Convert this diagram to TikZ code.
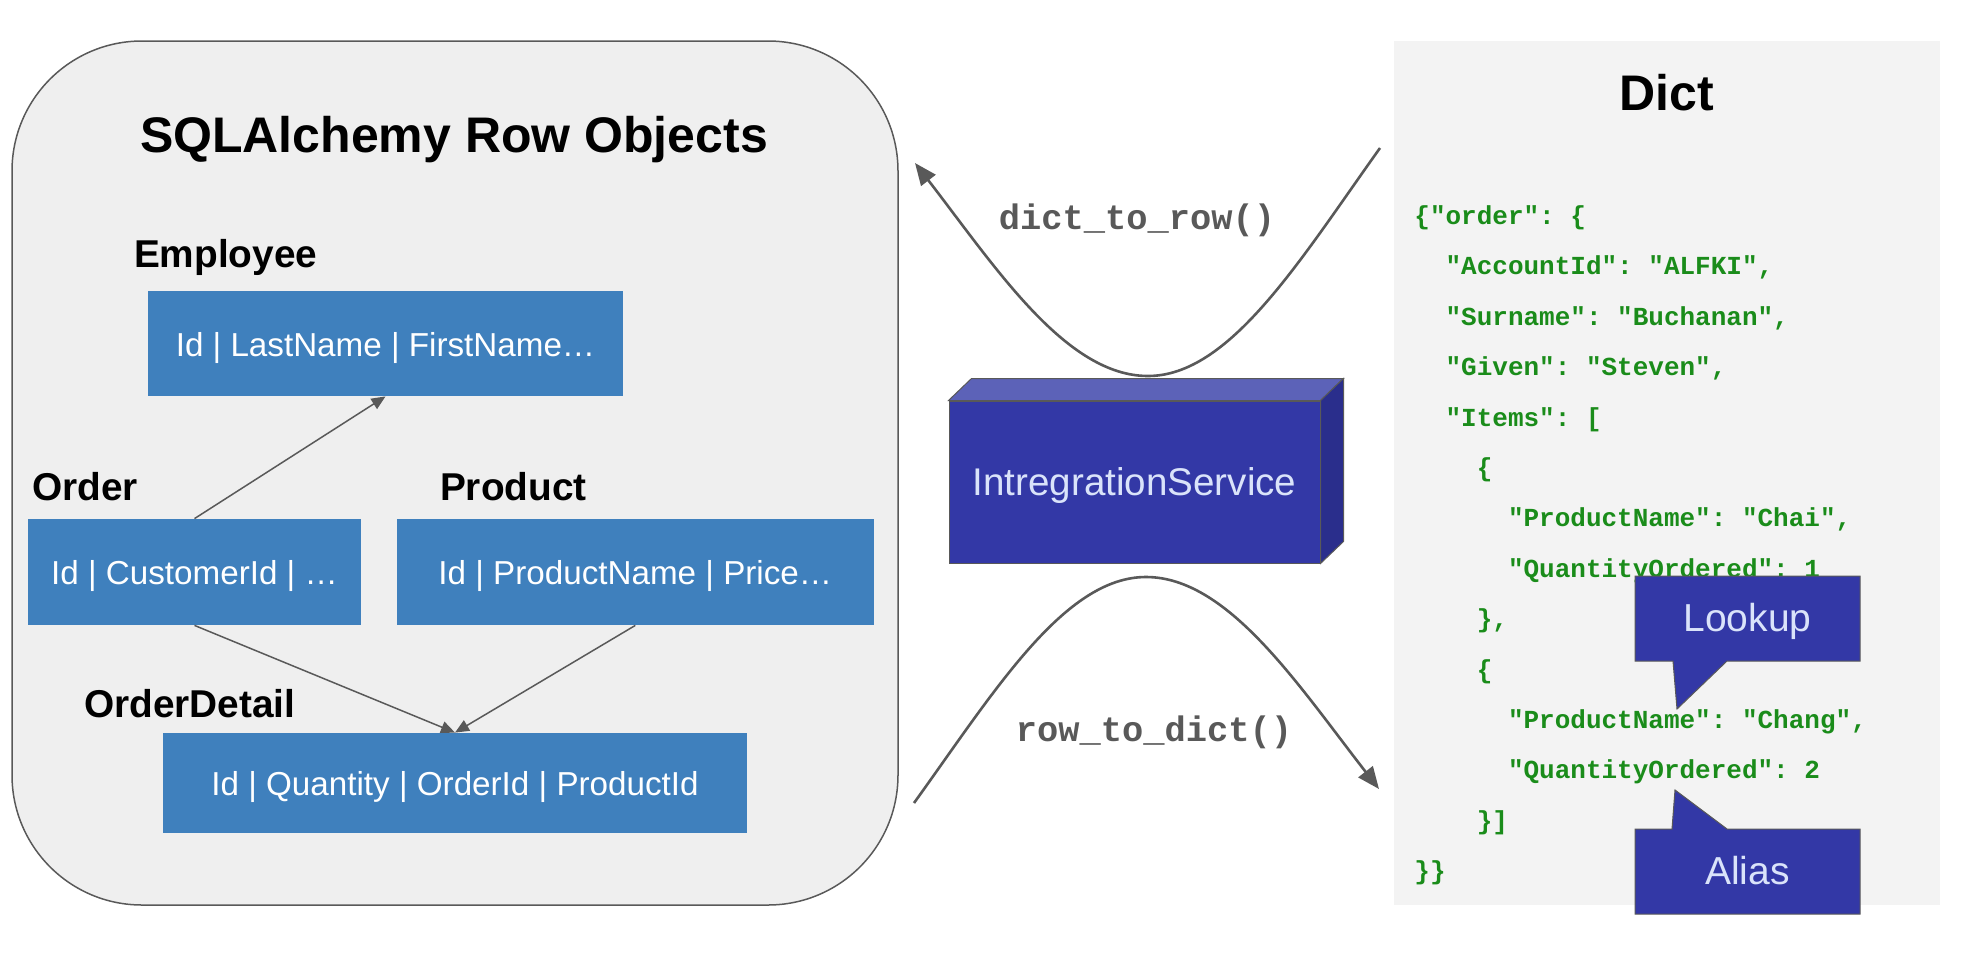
\documentclass[tikz,border=0pt]{standalone}
\usepackage{fontspec}
\setmainfont{Liberation Sans}
\setmonofont{Liberation Mono}
\usetikzlibrary{positioning,calc,arrows.meta}

\definecolor{panelgray}{HTML}{EFEFEF}
\definecolor{dictgray}{HTML}{F3F3F3}
\definecolor{linegray}{HTML}{595959}
\definecolor{rowblue}{HTML}{3F80BD}
\definecolor{svcfront}{HTML}{3338A6}
\definecolor{svctop}{HTML}{5C62B8}
\definecolor{svcside}{HTML}{2A2E8C}
\definecolor{svctext}{HTML}{DAE3FA}
\definecolor{jsongreen}{HTML}{1A8C1A}

\newcommand{\tab}{\phantom{xx}}

\tikzstyle{heading} = [font=\fontsize{25}{29}\selectfont\bfseries, anchor=base]
\tikzstyle{tablename} = [font=\fontsize{19.4}{23}\selectfont\bfseries, anchor=base west]
\tikzstyle{rowbox} = [fill=rowblue, text=white, inner sep=0pt, font=\fontsize{16.6}{20}\selectfont, text height=1.25em, text depth=0pt]
\tikzstyle{link} = [linegray, line width=0.75pt, -{Triangle[length=7pt,width=6pt]}]
\tikzstyle{flow} = [linegray, line width=1.3pt, -{Triangle[length=11pt,width=9pt]}]
\tikzstyle{codelabel} = [font=\fontsize{17.7}{21}\selectfont\ttfamily\bfseries, text=linegray, anchor=base]
\tikzstyle{bubble} = [fill=svcfront, draw=linegray, line width=0.5pt]
\tikzstyle{bubbletext} = [text=svctext, inner sep=0pt, font=\fontsize{19.5}{23}\selectfont, text height=1.3em, text depth=0pt]

\begin{document}
\begin{tikzpicture}[x=0.5pt, y=-0.5pt]
    \useasboundingbox (0,0) rectangle (1966,970);

    % row objects
    \node (row-panel) [draw=linegray, fill=panelgray, line width=0.75pt, rounded corners=65pt, minimum width=443pt, minimum height=432pt] at (455,473) {};
    \node (row-title) [heading] at (454,152) {SQLAlchemy Row Objects};

    \node (employee-label) [tablename] at (127,267) {Employee};
    \node (employee-box) [rowbox, minimum width=237.5pt, minimum height=52.5pt] at (385.5,343.5) {Id | LastName | FirstName…};

    \node (order-label) [tablename] at (25,500) {Order};
    \node (order-box) [rowbox, minimum width=166.5pt, minimum height=53pt] at (194.5,572) {Id | CustomerId | …};

    \node (product-label) [tablename] at (433,500) {Product};
    \node (product-box) [rowbox, minimum width=238.5pt, minimum height=53pt, right=17.5pt of order-box] {Id | ProductName | Price…};

    \node (detail-label) [tablename] at (77,717) {OrderDetail};
    \node (detail-box) [rowbox, minimum width=292pt, minimum height=50pt] at (455,783) {Id | Quantity | OrderId | ProductId};

    \draw [link] (order-box.north) -- (employee-box.south);
    \draw [link] (order-box.south) -- (detail-box.north);
    \draw [link] (product-box.south) -- (detail-box.north);

    % dict
    \node (dict-panel) [fill=dictgray, inner sep=0pt, minimum width=273pt, minimum height=432pt] at (1667,473) {};
    \node (dict-title) [heading] at (1667,110) {Dict};
    \node (dict-json) [anchor=north west, inner sep=0pt, align=left, text=jsongreen, font=\fontsize{13}{25.2}\selectfont\ttfamily\bfseries] at (1414,200) {\rule{0pt}{12pt}\{"order": \{\\
      \tab"AccountId": "ALFKI",\\
      \tab"Surname": "Buchanan",\\
      \tab"Given": "Steven",\\
      \tab"Items": [\\
      \tab\tab\{\\
      \tab\tab\tab"ProductName": "Chai",\\
      \tab\tab\tab"QuantityOrdered": 1\\
      \tab\tab\},\\
      \tab\tab\{\\
      \tab\tab\tab"ProductName": "Chang",\\
      \tab\tab\tab"QuantityOrdered": 2\\
      \tab\tab\}]\\
      \}\}};

    % service in the middle
    \coordinate (up-start) at (1380,148);
    \coordinate (up-low) at (1148,376);
    \coordinate (up-end) at (915,163);
    \draw [flow] (up-start) .. controls (1300,260) and (1230,376) .. (up-low) .. controls (1066,376) and (996,268) .. (up-end);
    \node (to-row) [codelabel] at (1137,229) {dict\_to\_row()};

    \coordinate (down-start) at (914,803);
    \coordinate (down-high) at (1146,577);
    \coordinate (down-end) at (1379,789);
    \draw [flow] (down-start) .. controls (994,692) and (1064,577) .. (down-high) .. controls (1228,577) and (1298,685) .. (down-end);
    \node (to-dict) [codelabel] at (1154,741) {row\_to\_dict()};

    \node (svc) [fill=svcfront, draw=linegray, line width=0.5pt, minimum width=185.5pt, minimum height=81pt, inner sep=0pt, text=svctext, font=\fontsize{19.3}{23}\selectfont, text height=1.3em, text depth=0pt] at (1134.5,482) {IntregrationService};
    \draw [fill=svctop, draw=linegray, line width=0.5pt] (svc.north west) -- ++(23,-22) -- ($(svc.north east)+(23,-22)$) -- (svc.north east) -- cycle;
    \draw [fill=svcside, draw=linegray, line width=0.5pt] (svc.north east) -- ++(23,-22) -- ($(svc.south east)+(23,-22)$) -- (svc.south east) -- cycle;

    % callouts
    \draw [bubble] (1635,576) -- (1860,576) -- (1860,661) -- (1727,661) -- (1677,709) -- (1673,661) -- (1635,661) -- cycle;
    \node (lookup) [bubbletext] at (1747.5,618.5) {Lookup};

    \draw [bubble] (1635,829) -- (1672,829) -- (1675,790) -- (1727,829) -- (1860,829) -- (1860,914) -- (1635,914) -- cycle;
    \node (alias) [bubbletext] at (1747.5,871.5) {Alias};

  \end{tikzpicture}
\end{document}
